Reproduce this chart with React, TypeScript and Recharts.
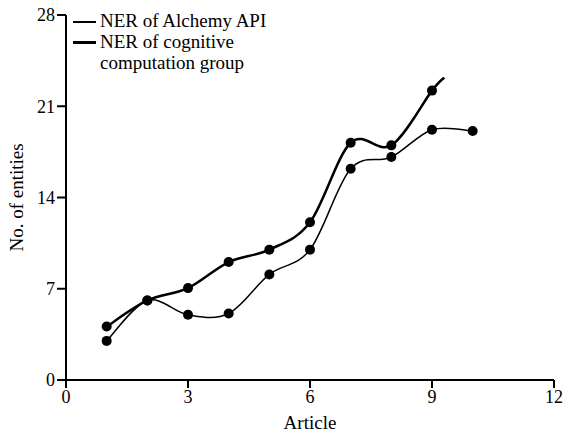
import React from 'react'
import { LineChart, Line, XAxis, YAxis } from 'recharts'

// article numbers and entity counts
const articles = [1, 2, 3, 4, 5, 6, 7, 8, 9, 10]
const alchemy = [3.0, 6.1, 5.0, 5.1, 8.1, 10.0, 16.2, 17.1, 19.2, 19.1]
const cognitiveX = [1, 2, 3, 4, 5, 6, 7, 8, 9, 9.3]
const cognitive = [4.1, 6.1, 7.05, 9.05, 10.0, 12.1, 18.2, 18.0, 22.2, 23.2]

const xTicks = [0, 3, 6, 9, 12]
const yTicks = [0, 7, 14, 21, 28]

const alchemyData = articles.map((a, i) => ({ article: a, value: alchemy[i] }))
const cognitiveData = cognitiveX.map((a, i) => ({ article: a, value: cognitive[i], tail: i === cognitiveX.length - 1 }))

const font = 'Times New Roman, Liberation Serif, serif'

// cardinal spline (tension 0) as a d3-style curve factory
const cardinal = (context: any) => {
  let pts: number[][] = []
  return {
    areaStart() {},
    areaEnd() {},
    lineStart() { pts = [] },
    point(x: number, y: number) { pts.push([+x, +y]) },
    lineEnd() {
      if (!pts.length) return
      context.moveTo(pts[0][0], pts[0][1])
      for (let i = 0; i < pts.length - 1; i++) {
        const p0 = pts[Math.max(i - 1, 0)]
        const p1 = pts[i]
        const p2 = pts[i + 1]
        const p3 = pts[Math.min(i + 2, pts.length - 1)]
        context.bezierCurveTo(
          p1[0] + (p2[0] - p0[0]) / 6, p1[1] + (p2[1] - p0[1]) / 6,
          p2[0] - (p3[0] - p1[0]) / 6, p2[1] - (p3[1] - p1[1]) / 6,
          p2[0], p2[1],
        )
      }
    },
  }
}

const Dot = (props: any) => {
  const { cx, cy, payload } = props
  if (payload && payload.tail) return <g />
  return <circle cx={cx} cy={cy} r={5} fill="#000" />
}

export default function App() {
  return (
    <div style={{ position: 'absolute', left: 0, top: 0, width: 570, height: 434, background: '#fff' }}>
      <LineChart width={570} height={434} margin={{ top: 15, right: 16, bottom: 0, left: 0 }}>
        <XAxis
          type="number"
          dataKey="article"
          domain={[0, 12]}
          ticks={xTicks}
          allowDuplicatedCategory={false}
          stroke="#000"
          strokeWidth={2}
          tickSize={8}
          tick={{ fill: '#000', fontSize: 18, fontFamily: font }}
          label={{ value: 'Article', position: 'insideBottom', offset: 5, fill: '#000', fontSize: 19, fontFamily: font }}
          height={54}
        />
        <YAxis
          type="number"
          domain={[0, 28]}
          ticks={yTicks}
          stroke="#000"
          strokeWidth={2}
          tickSize={9}
          tick={{ fill: '#000', fontSize: 18, fontFamily: font }}
          label={{ value: 'No. of entities', angle: -90, position: 'insideLeft', offset: 16, fill: '#000', fontSize: 19, fontFamily: font, style: { textAnchor: 'middle' } }}
          width={66}
        />
        <Line
          data={alchemyData}
          dataKey="value"
          type={cardinal as any}
          stroke="#000"
          strokeWidth={1.5}
          dot={<Dot />}
          activeDot={false}
          isAnimationActive={false}
        />
        <Line
          data={cognitiveData}
          dataKey="value"
          type={cardinal as any}
          stroke="#000"
          strokeWidth={2.5}
          dot={<Dot />}
          activeDot={false}
          isAnimationActive={false}
        />
      </LineChart>
      {/* legend */}
      <div style={{ position: 'absolute', left: 73, top: 10, fontFamily: font, fontSize: 19, lineHeight: '21px', color: '#000' }}>
        <div style={{ display: 'flex', alignItems: 'flex-start' }}>
          <span style={{ width: 23, height: 1.5, background: '#000', marginTop: 11, marginRight: 4 }} />
          <span>NER of Alchemy API</span>
        </div>
        <div style={{ display: 'flex', alignItems: 'flex-start' }}>
          <span style={{ width: 23, height: 3, background: '#000', marginTop: 10, marginRight: 4 }} />
          <span>NER of cognitive<br />computation group</span>
        </div>
      </div>
    </div>
  )
}
